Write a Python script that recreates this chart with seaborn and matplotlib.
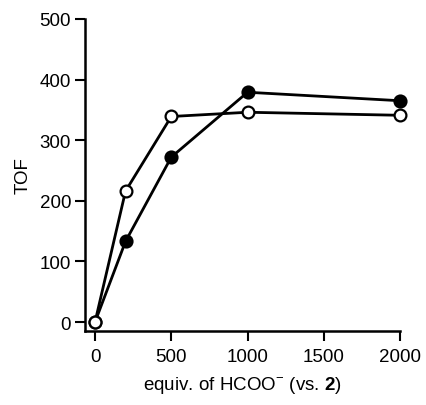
import pandas as pd
import seaborn as sns
import matplotlib.pyplot as plt

# equivalents of formate vs. catalyst 2
equiv = [0, 200, 500, 1000, 2000]
tof_filled = [0, 133, 272, 379, 365]
tof_open = [0, 216, 339, 346, 341]

x_ticks = [0, 500, 1000, 1500, 2000]
y_ticks = [0, 100, 200, 300, 400, 500]

sns.set_style("ticks")
plt.rcParams['font.family'] = ['Liberation Sans', 'DejaVu Sans']
plt.rcParams['mathtext.fontset'] = 'custom'
plt.rcParams['mathtext.rm'] = 'Liberation Sans'
plt.rcParams['mathtext.bf'] = 'Liberation Sans:bold'
plt.rcParams['text.color'] = 'black'
plt.rcParams['axes.labelcolor'] = 'black'

df = pd.DataFrame({'equiv': equiv, 'filled': tof_filled, 'open': tof_open})

fig = plt.figure(figsize=(4.27, 4.06), dpi=100)
ax = fig.add_axes([0.199, 0.182, 0.738, 0.769])

sns.lineplot(data=df, x='equiv', y='filled', ax=ax, color='black', linewidth=2,
             marker='o', markersize=9, markerfacecolor='black',
             markeredgecolor='black', markeredgewidth=1.2, clip_on=False)
sns.lineplot(data=df, x='equiv', y='open', ax=ax, color='black', linewidth=2,
             marker='o', markersize=8.5, markerfacecolor='white',
             markeredgecolor='black', markeredgewidth=1.6, clip_on=False)

ax.set_xlim(-66, 2000)
ax.set_ylim(-15, 500)
ax.set_xticks(x_ticks)
ax.set_yticks(y_ticks)
ax.tick_params(axis='both', labelsize=13.5, width=1.5, length=7, color='black',
               labelcolor='black', direction='out')
ax.tick_params(axis='x', pad=5)
ax.tick_params(axis='y', pad=3)

for side in ['top', 'right']:
    ax.spines[side].set_visible(False)
for side in ['left', 'bottom']:
    ax.spines[side].set_linewidth(1.8)
    ax.spines[side].set_color('black')
ax.spines['left'].set_bounds(-15, 500)
ax.spines['bottom'].set_bounds(-66, 2000)

ax.set_xlabel(r'equiv. of HCOO$^{-}$ (vs. $\mathbf{2}$)', fontsize=13.5, labelpad=7)
ax.set_ylabel('TOF', fontsize=13.5, labelpad=6)

fig.savefig('out.png', dpi=100)
